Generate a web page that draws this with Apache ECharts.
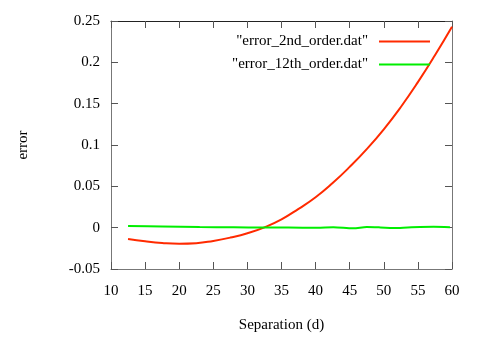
<!DOCTYPE html>
<html>
<head>
<meta charset="utf-8">
<script src="https://cdn.jsdelivr.net/npm/echarts@6/dist/echarts.min.js"></script>
<style>
  html, body { margin: 0; padding: 0; background: #fff; }
  #container { width: 485px; height: 340px; }
</style>
</head>
<body>
<div id="container"></div>
<script>
// values
var sep2nd = [12.5, 15, 17.5, 20, 22.5, 25, 27.5, 30, 32.5, 35, 37.5, 40, 42.5, 45, 47.5, 50, 52.5, 55, 57.5, 60];
var err2nd = [-0.0138, -0.0165, -0.0185, -0.0194, -0.0188, -0.0160, -0.0120, -0.0068, 0.0004, 0.0100, 0.0228, 0.0368, 0.0540, 0.0735, 0.0950, 0.1190, 0.1460, 0.1760, 0.2085, 0.2430];

var sep12th = [12.5, 17.5, 23, 28, 32.3, 36, 40.2, 42.6, 45.5, 47.5, 49.5, 51.4, 53.5, 55.3, 57.3, 59.7];
var err12th = [0.0019, 0.0014, 0.0008, 0.0005, 0.0002, 0.0001, -0.0002, 0.0006, -0.0008, 0.0008, 0.0003, -0.0005, 0.0002, 0.0008, 0.0010, 0.0004];

var xTicks = [10, 15, 20, 25, 30, 35, 40, 45, 50, 55, 60];
var yTicks = [-0.05, 0, 0.05, 0.1, 0.15, 0.2, 0.25];

var font = 'Liberation Serif';

function pairs(xs, ys) {
    var out = [];
    for (var i = 0; i < xs.length; i++) {
        out.push([xs[i], ys[i]]);
    }
    return out;
}

// gnuplot style frame: ticks inside, mirrored on top and right
function frameAxis(type, pos, min, max, step, color, labels) {
    var ax = {
        type: 'value',
        position: pos,
        min: min,
        max: max,
        interval: step,
        splitLine: { show: false },
        axisLine: { show: true, onZero: false, lineStyle: { color: color, width: 1 } },
        axisTick: { show: true, inside: true, length: 7, lineStyle: { color: '#555' } },
        axisLabel: { show: false }
    };
    if (labels) {
        ax.axisLabel = {
            show: true,
            color: '#000',
            fontFamily: font,
            fontSize: 15,
            margin: type == 'x' ? 15 : 11
        };
    }
    return ax;
}

var xBottom = frameAxis('x', 'bottom', xTicks[0], xTicks[xTicks.length - 1], 5, '#777', true);
xBottom.name = 'Separation (d)';
xBottom.nameLocation = 'middle';
xBottom.nameGap = 49;
xBottom.nameTextStyle = { color: '#000', fontFamily: font, fontSize: 15 };

var yLeft = frameAxis('y', 'left', yTicks[0], yTicks[yTicks.length - 1], 0.05, '#777', true);
yLeft.name = 'error';
yLeft.nameLocation = 'middle';
yLeft.nameGap = 80;
yLeft.nameTextStyle = { color: '#000', fontFamily: font, fontSize: 15 };

function legendFor(name, top) {
    return {
        data: [name],
        right: 50, top: top,
        align: 'right',
        icon: 'rect',
        itemWidth: 51, itemHeight: 2, itemGap: 10,
        textStyle: { color: '#000', fontFamily: font, fontSize: 15, padding: [0, 6, 0, 0] }
    };
}

var option = {
    animation: false,
    backgroundColor: '#fff',
    grid: { left: 111, right: 33, top: 21, bottom: 71 },
    legend: [
        legendFor('"error_2nd_order.dat"', 29),
        legendFor('"error_12th_order.dat"', 52)
    ],
    xAxis: [
        xBottom,
        frameAxis('x', 'top', xTicks[0], xTicks[xTicks.length - 1], 5, '#222', false)
    ],
    yAxis: [
        yLeft,
        frameAxis('y', 'right', yTicks[0], yTicks[yTicks.length - 1], 0.05, '#777', false)
    ],
    series: [{
        name: '"error_2nd_order.dat"',
        type: 'line',
        data: pairs(sep2nd, err2nd),
        smooth: 0.5,
        symbol: 'none',
        lineStyle: { color: '#ff2a00', width: 2 },
        itemStyle: { color: '#ff2a00' }
    }, {
        name: '"error_12th_order.dat"',
        type: 'line',
        data: pairs(sep12th, err12th),
        smooth: 0.3,
        symbol: 'none',
        lineStyle: { color: '#00ee00', width: 2 },
        itemStyle: { color: '#00ee00' }
    }]
};

var myChart = echarts.init(document.getElementById('container'));
myChart.setOption(option);
</script>
</body>
</html>
